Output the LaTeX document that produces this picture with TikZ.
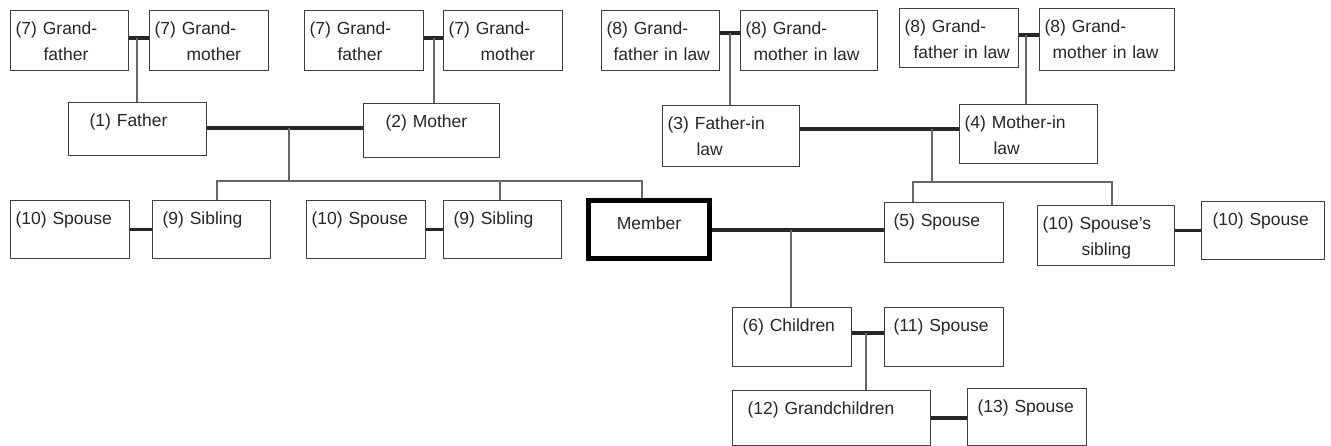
\documentclass[tikz,border=0pt]{standalone}
\usepackage{fontspec}
\setmainfont{Liberation Sans}
\usetikzlibrary{calc}

\begin{document}
\begin{tikzpicture}[x=1pt, y=-1pt, font=\fontsize{17.5}{26}\selectfont,
  person/.style 2 args={draw=black!75, line width=1.2pt, anchor=north west,
    inner xsep=5pt, inner ysep=0pt, align=left, text=black!85,
    text width=#1pt-10pt, text height=24pt, text depth=#2pt-24pt},
  member/.style={draw=black, line width=5pt, anchor=north west,
    inner sep=0pt, align=center, text=black!85,
    text width=121pt, text height=29pt, text depth=29pt},
  couple/.style={line width=3.5pt, black!85},
  child/.style={line width=1.5pt, black!60}]
  \useasboundingbox (0,0) rectangle (1331,446);

  % grandparents
  \node [person={118}{60}] (gfa) at (10,10) {(7) Grand-\\\hspace*{28pt}father};
  \node [person={119}{60}] (gma) at (149,10) {(7) Grand-\\\hspace*{32pt}mother};
  \node [person={119}{60}] (gfb) at (304,10) {(7) Grand-\\\hspace*{28pt}father};
  \node [person={119}{60}] (gmb) at (443,10) {(7) Grand-\\\hspace*{32pt}mother};
  \node [person={118}{60}] (gfc) at (601,10) {(8) Grand-\\\hspace*{7pt}father in law};
  \node [person={137}{60}] (gmc) at (740,10) {(8) Grand-\\\hspace*{8pt}mother in law};
  \node [person={119}{59}] (gfd) at (899,8) {(8) Grand-\\\hspace*{9pt}father in law};
  \node [person={135}{62}] (gmd) at (1039,8) {(8) Grand-\\\hspace*{8pt}mother in law};

  % parents
  \node [person={138}{53}] (fa) at (68,102) {\hspace*{16pt}(1) Father};
  \node [person={136}{54}] (mo) at (363,103) {\hspace*{17pt}(2) Mother};
  \node [person={137}{61}] (fil) at (662,105) {(3) Father-in\\\hspace*{29pt}law};
  \node [person={138}{59}] (mil) at (959,104) {(4) Mother-in\\\hspace*{29pt}law};

  % member's generation
  \node [person={119}{58}] (spa) at (10,200) {(10) Spouse};
  \node [person={118}{58}] (sia) at (152,200) {\hspace*{5pt}(9) Sibling};
  \node [person={119}{58}] (spb) at (306,200) {(10) Spouse};
  \node [person={118}{58}] (sib) at (443,200) {\hspace*{5pt}(9) Sibling};
  \node [member] (me) at (586,198) {Member};
  \node [person={119}{60}] (spf) at (884,202) {\hspace*{4pt}(5) Spouse};
  \node [person={137}{60}] (ss) at (1037,205) {(10) Spouse's\\\hspace*{39pt}sibling};
  \node [person={123}{58}] (spc) at (1201,201) {\hspace*{6pt}(10) Spouse};

  % descendants
  \node [person={119}{59}] (ch) at (732,307) {\hspace*{5pt}(6) Children};
  \node [person={119}{59}] (spd) at (884,307) {\hspace*{4pt}(11) Spouse};
  \node [person={198}{55}] (gc) at (732,390) {\hspace*{10pt}(12) Grandchildren};
  \node [person={119}{57}] (spe) at (967,388) {\hspace*{5pt}(13) Spouse};

  % junctions
  \coordinate (ja) at (137,38);
  \coordinate (jb) at (434,38);
  \coordinate (jc) at (730,33);
  \coordinate (jd) at (1026,35);
  \coordinate (je) at (289,128);
  \coordinate (jf) at (932,129);
  \coordinate (jg) at (791,230);
  \coordinate (jh) at (866,333);
  \coordinate (ba) at (217,181);
  \coordinate (bb) at (500,181);
  \coordinate (bc) at (642,181);
  \coordinate (bd) at (913,182);
  \coordinate (be) at (1112,182);

  \draw [couple] (gfa.east |- ja) -- (gma.west |- ja);
  \draw [child] (ja) -- (ja |- fa.north);
  \draw [couple] (gfb.east |- jb) -- (gmb.west |- jb);
  \draw [child] (jb) -- (jb |- mo.north);
  \draw [couple] (gfc.east |- jc) -- (gmc.west |- jc);
  \draw [child] (jc) -- (jc |- fil.north);
  \draw [couple] (gfd.east |- jd) -- (gmd.west |- jd);
  \draw [child] (jd) -- (jd |- mil.north);

  \draw [couple] (fa.east |- je) -- (mo.west |- je);
  \draw [child] (je) -- (je |- ba);
  \draw [child] (ba |- sia.north) -- (ba) -- (bc) -- (bc |- me.north);
  \draw [child] (bb) -- (bb |- sib.north);
  \draw [couple] (fil.east |- jf) -- (mil.west |- jf);
  \draw [child] (jf) -- (jf |- bd);
  \draw [child] (bd |- spf.north) -- (bd) -- (be) -- (be |- ss.north);

  \draw [couple] (spa.east) -- (spa.east -| sia.west);
  \draw [couple] (spb.east) -- (spb.east -| sib.west);
  \draw [couple] (me.east |- jg) -- (spf.west |- jg);
  \draw [couple] (spc.west) -- (spc.west -| ss.east);
  \draw [child] (jg) -- (jg |- ch.north);
  \draw [couple] (ch.east |- jh) -- (spd.west |- jh);
  \draw [child] (jh) -- (jh |- gc.north);
  \draw [couple] (gc.east) -- (gc.east -| spe.west);
\end{tikzpicture}
\end{document}
